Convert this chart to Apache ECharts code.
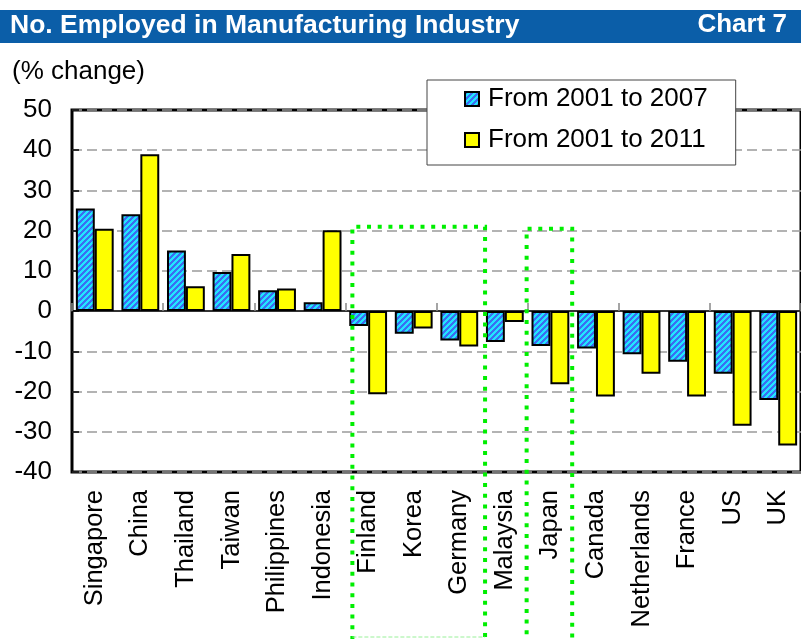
<!DOCTYPE html>
<html>
<head>
<meta charset="utf-8">
<script src="https://cdn.jsdelivr.net/npm/echarts@6/dist/echarts.min.js"></script>
<style>html,body{margin:0;padding:0;background:#fff;}#c{width:801px;height:639px;}</style>
</head>
<body>
<div id="c"></div>
<script>
const categories = ['Singapore','China','Thailand','Taiwan','Philippines','Indonesia','Finland','Korea','Germany','Malaysia','Japan','Canada','Netherlands','France','US','UK'];
const change2001to2007 = [25.5, 24.1, 15.1, 9.7, 5.2, 2.2, -3.7, -5.6, -7.3, -7.7, -8.7, -9.3, -10.7, -12.6, -15.6, -22.1];
const change2001to2011 = [20.5, 39.0, 6.2, 14.2, 5.6, 20.1, -20.7, -4.3, -8.8, -2.7, -18.2, -21.2, -15.6, -21.2, -28.5, -33.4];
const seriesNames = ['From 2001 to 2007', 'From 2001 to 2011'];
const yTicks = {min: -40, max: 50, interval: 10};
const titleText = 'No. Employed in Manufacturing Industry';
const chartNo = 'Chart 7';
const unitText = '(% change)';

const FONT = "'Liberation Sans', Arial, sans-serif";

function makeHatch() {
  const c = document.createElement('canvas');
  c.width = 6; c.height = 6;
  const ctx = c.getContext('2d');
  for (let x = 0; x < 6; x++) {
    for (let y = 0; y < 6; y++) {
      ctx.fillStyle = ((x + y) % 6 < 3) ? '#3b6ef2' : '#22e4ff';
      ctx.fillRect(x, y, 1, 1);
    }
  }
  return c;
}

const chart = echarts.init(document.getElementById('c'), null, {renderer: 'canvas'});

const option = {
  animation: false,
  backgroundColor: '#fff',
  textStyle: {fontFamily: FONT},
  grid: {
    left: 72, top: 110, bottom: 167, right: -6,
    show: true, borderColor: '#000', borderWidth: 3, backgroundColor: 'transparent'
  },
  legend: {
    orient: 'vertical',
    left: 427, top: 80,
    backgroundColor: '#fff',
    borderColor: '#444', borderWidth: 1,
    padding: [6, 28, 12, 37],
    itemGap: 15,
    itemWidth: 14, itemHeight: 14,
    icon: 'rect',
    textStyle: {fontSize: 26, color: '#000', fontFamily: FONT, padding: [0, 0, 0, 4]},
    data: seriesNames
  },
  xAxis: [
    {
      type: 'category', data: categories, position: 'bottom',
      axisLine: {show: false, onZero: false},
      axisTick: {show: false},
      axisLabel: {interval: 0, rotate: 90, fontSize: 25.5, color: '#000', margin: 18, fontFamily: FONT},
      splitLine: {show: false}
    },
    {
      type: 'category', data: categories, position: 'top',
      axisLine: {show: true, onZero: true, lineStyle: {color: '#333', width: 2}},
      axisTick: {show: true, inside: false, length: 8, lineStyle: {color: '#888', width: 1.5}},
      axisLabel: {show: false},
      splitLine: {show: false}
    }
  ],
  yAxis: {
    type: 'value', min: yTicks.min, max: yTicks.max, interval: yTicks.interval,
    axisLine: {show: false},
    axisTick: {show: true, inside: true, length: 7, lineStyle: {color: '#000', width: 1.5}},
    axisLabel: {fontSize: 26, color: '#000', margin: 20, fontFamily: FONT},
    splitLine: {show: true, lineStyle: {color: '#9a9a9a', width: 1.5, type: [10, 5]}}
  },
  series: [
    {
      name: seriesNames[0], type: 'bar', xAxisIndex: 0, data: change2001to2007,
      barGap: '0%', barCategoryGap: '17%',
      itemStyle: {color: {image: makeHatch(), repeat: 'repeat'}, borderColor: '#000', borderWidth: 2}
    },
    {
      name: seriesNames[1], type: 'bar', xAxisIndex: 0, data: change2001to2011,
      barGap: '0%', barCategoryGap: '17%',
      itemStyle: {color: '#ffff00', borderColor: '#000', borderWidth: 2}
    }
  ]
};
chart.setOption(option);

const px = (i, v) => chart.convertToPixel({xAxisIndex: 0, yAxisIndex: 0}, [i, v]);
const catW = px(1, 0)[0] - px(0, 0)[0];
const cx = i => px(i, 0)[0];
const greenDots = {stroke: '#00ee00', lineWidth: 4, lineDash: [4, 6.7], fill: null};

const b1x1 = cx(6) - catW / 2 + 7, b1x2 = cx(8) + catW / 2 + 3, b1top = px(0, 21)[1];
const b2x1 = cx(10) - catW / 2 - 1, b2x2 = cx(10) + catW / 2 - 1, b2top = px(0, 20.5)[1];

chart.setOption({
  graphic: [
    {type: 'rect', shape: {x: 0, y: 10, width: 801, height: 33}, style: {fill: '#0b5ea8'}, z: 10},
    {type: 'text', left: 10, top: 12, style: {text: titleText, fill: '#fff', font: "bold 26.5px " + FONT}, z: 11},
    {type: 'text', right: 14, top: 12, style: {text: chartNo, fill: '#fff', font: "bold 26px " + FONT}, z: 11},
    {type: 'text', left: 12, top: 59, style: {text: unitText, fill: '#000', font: "26px " + FONT}, z: 11},
    {type: 'polyline', shape: {points: [[b1x1, 640], [b1x1, b1top], [b1x2, b1top], [b1x2, 640]]}, style: greenDots, z: 20},
    {type: 'line', shape: {x1: b1x1, y1: 637, x2: b1x2, y2: 637}, style: {stroke: '#99f099', lineWidth: 1, lineDash: [4, 2]}, z: 20},
    {type: 'polyline', shape: {points: [[b2x1, 645], [b2x1, b2top], [b2x2, b2top], [b2x2, 645]]}, style: greenDots, z: 20}
  ]
});
</script>
</body>
</html>
